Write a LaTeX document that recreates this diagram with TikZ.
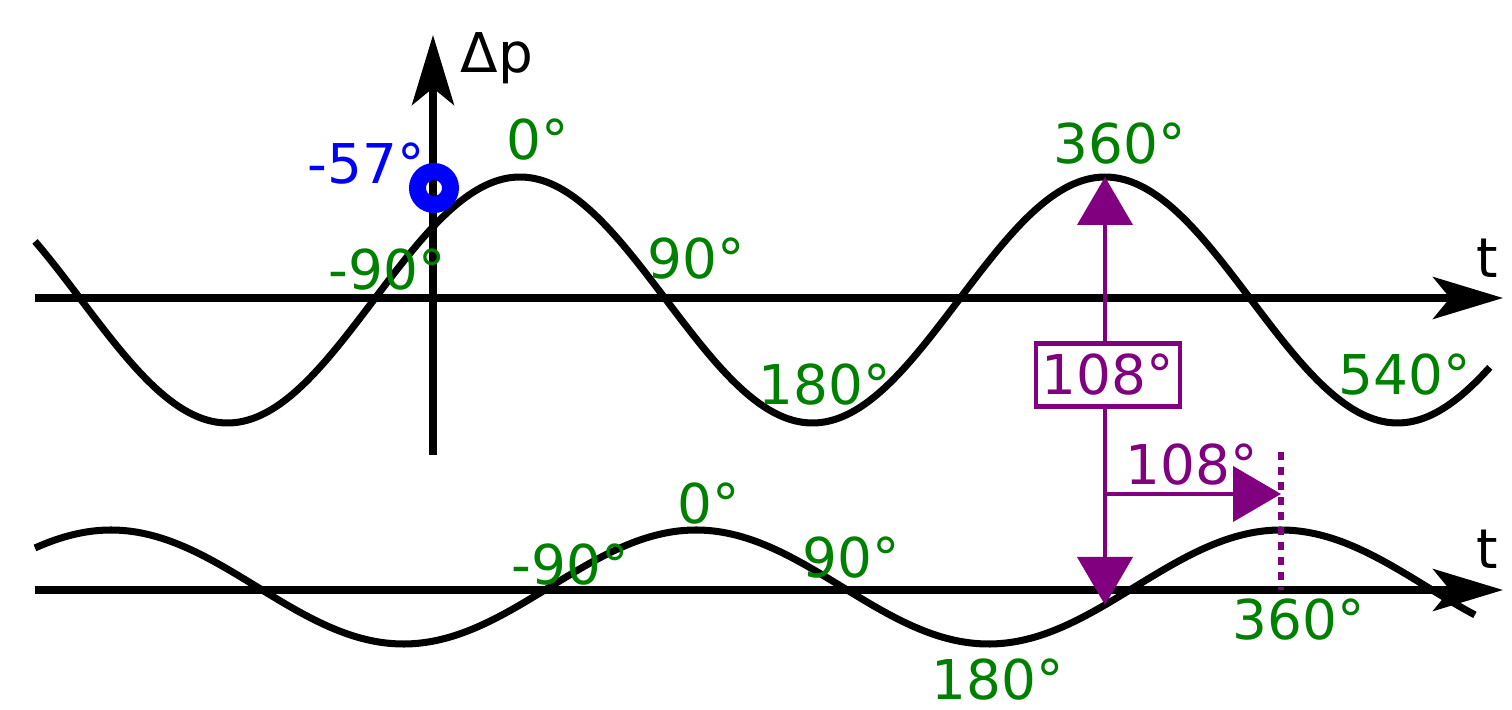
\documentclass[tikz,border=0pt]{standalone}
\usepackage{fontspec}
\setmainfont{DejaVu Sans}
\usetikzlibrary{arrows.meta}

\definecolor{phasegreen}{RGB}{0,128,0}
\definecolor{shiftpurple}{RGB}{128,0,128}

\begin{document}
\begin{tikzpicture}[
  font=\fontsize{15.6}{18}\selectfont,
  axis/.style={line width=2pt, -{Stealth[length=0.7cm, width=0.42cm, inset=0.17cm]}},
  wave/.style={line width=2pt, smooth, samples=200},
  label/.style={inner sep=0pt},
  phase/.style={text=phasegreen, inner sep=0pt},
  shiftline/.style={draw=shiftpurple, line width=1.2pt},
  shifttip/.style={-{Triangle[length=0.48cm, width=0.55cm]}},
]
\useasboundingbox (0,0) rectangle (15.12,7.10);

% axes
\coordinate (top west) at (0.35,4.12);
\coordinate (top east) at (15.03,4.12);
\coordinate (dp south) at (4.33,2.55);
\coordinate (dp north) at (4.33,6.75);
\coordinate (bot west) at (0.35,1.20);
\coordinate (bot east) at (15.03,1.20);
\draw[axis] (top west) -- (top east);
\draw[axis] (dp south) -- (dp north);
\draw[axis] (bot west) -- (bot east);
\node[label] (dp) at (4.97,6.52) {Δp};
\node[label] (t top) at (14.87,4.52) {t};
\node[label] (t bot) at (14.87,1.61) {t};

% waves
\draw[wave] plot[domain=0.35:14.9] (\x, {4.10 + 1.23*cos(360*(\x-5.2)/5.85)});
\draw[wave] plot[domain=0.35:14.75] (\x, {1.23 + 0.57*cos(360*(\x-6.96)/5.85)});

% phase labels, upper wave
\node[phase] (p0) at (5.38,5.70) {0°};
\node[phase] (p360) at (11.20,5.66) {360°};
\node[phase] (pm90) at (3.87,4.40) {-90°};
\node[phase] (p90) at (6.96,4.51) {90°};
\node[phase] (p180) at (8.25,3.25) {180°};
\node[phase] (p540) at (14.05,3.35) {540°};

% phase labels, lower wave
\node[phase] (q0) at (7.09,2.06) {0°};
\node[phase] (qm90) at (5.70,1.45) {-90°};
\node[phase] (q90) at (8.51,1.52) {90°};
\node[phase] (q180) at (9.98,0.30) {180°};
\node[phase] (q360) at (12.99,0.90) {360°};

% start phase
\draw[blue, line width=0.17cm] (4.34,5.22) circle (0.165);
\node[label, text=blue] (m57) at (3.66,5.46) {-57°};

% phase shift
\coordinate (shift top) at (11.05,5.33);
\coordinate (shift bot) at (11.05,1.05);
\coordinate (shift mid) at (11.05,2.16);
\coordinate (shift end) at (12.81,2.16);
\coordinate (mark top) at (12.81,2.58);
\coordinate (mark bot) at (12.81,1.20);
\node[shiftline, draw, fill=white, text=shiftpurple, minimum width=1.44cm,
  minimum height=0.63cm, inner sep=0pt] (box) at (11.08,3.35) {108°};
\draw[shiftline, shifttip] (box.north -| shift top) -- (shift top);
\draw[shiftline, shifttip] (box.south -| shift bot) -- (shift bot);
\draw[shiftline, shifttip] (shift mid) -- (shift end);
\node[label, text=shiftpurple] (dphi) at (11.92,2.45) {108°};
\draw[shiftpurple, line width=0.06cm, dash pattern=on 0.08cm off 0.07cm] (mark top) -- (mark bot);
\end{tikzpicture}
\end{document}
